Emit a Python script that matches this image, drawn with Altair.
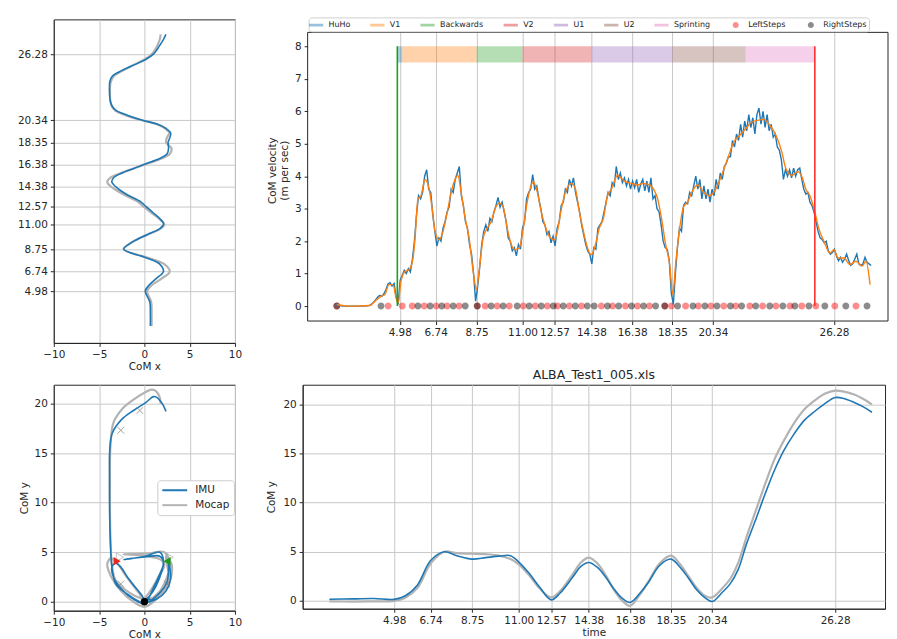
import altair as alt
import pandas as pd

# ---------------- data ----------------
TIME_TICKS = [4.98, 6.74, 8.75, 11.00, 12.57, 14.38, 16.38, 18.35, 20.34, 26.28]

# centre-of-mass position (IMU and Mocap) sampled in time
T_POS = [1.85, 3.0, 4.0, 4.98, 5.5, 6.1, 6.74, 7.4, 8.0, 8.75, 9.4, 10.05, 10.6, 11.0,
         11.5, 12.0, 12.57, 13.0, 13.6, 14.0, 14.38, 14.8, 15.2, 15.6, 16.0, 16.38,
         16.9, 17.3, 17.8, 18.35, 18.8, 19.2, 19.6, 20.0, 20.34, 20.8, 21.2, 21.6,
         22.0, 22.45, 22.9, 23.35, 23.8, 24.3, 24.8, 25.3, 25.8, 26.28, 26.7, 27.2,
         27.6, 28.06]
X_IMU = [0.66, 0.66, 0.6, 0.1, 0.5, 1.3, 2.1, 1.7, 0.1, -2.27, -1.3, 0.3, 1.7, 2.12,
         1.7, 1.0, 0.2, -0.4, -1.8, -2.6, -3.19, -3.6, -3.37, -2.45, -1.17, 0.0,
         1.7, 2.5, 2.67, 2.62, 2.82, 2.9, 2.4, 1.4, -0.2, -1.9, -3.1, -3.55,
         -3.74, -3.82, -3.85, -3.85, -3.82, -3.55, -2.5, -1.2, 0.15, 1.0, 1.4, 1.8,
         2.1, 2.38]
Y_IMU = [0.17, 0.2, 0.24, 0.15, 0.5, 1.6, 4.1, 5.0, 4.6, 4.25, 4.4, 4.55, 4.6, 3.95,
         2.8, 1.4, 0.1, 0.8, 2.4, 3.5, 3.9, 3.4, 2.4, 1.2, 0.25, -0.17,
         0.9, 2.0, 3.6, 4.25, 3.4, 2.3, 1.1, 0.3, -0.07, 0.8, 1.7, 3.2,
         5.8, 8.3, 10.9, 13.3, 15.3, 17.0, 18.4, 19.3, 20.1, 20.7, 20.6, 20.2,
         19.8, 19.2]
X_MOCAP = [0.8, 0.8, 0.75, 0.3, 0.8, 1.9, 2.8, 2.2, 0.3, -2.3, -1.3, 0.3, 1.8, 2.2,
           1.6, 0.8, -0.1, -0.7, -2.1, -3.0, -3.7, -4.1, -3.7, -2.6, -1.2, 0.1,
           1.9, 2.8, 3.0, 2.4, 2.5, 2.75, 2.3, 1.3, -0.3, -2.1, -3.2, -3.6,
           -3.75, -3.8, -3.8, -3.8, -3.7, -3.4, -2.4, -1.2, 0.0, 0.8, 1.2, 1.5,
           1.7, 1.8]
Y_MOCAP = [-0.05, -0.07, -0.05, 0.0, 0.3, 1.3, 3.8, 5.0, 4.85, 4.8, 4.75, 4.6, 4.25, 3.7,
           2.6, 1.3, 0.35, 1.0, 2.7, 3.9, 4.4, 3.8, 2.6, 1.1, 0.0, -0.5,
           0.8, 2.1, 3.8, 4.6, 3.7, 2.5, 1.3, 0.5, 0.35, 1.2, 2.2, 3.9,
           6.5, 9.2, 11.9, 14.4, 16.3, 18.1, 19.5, 20.4, 21.1, 21.4, 21.3, 21.0,
           20.6, 20.0]

# raw CoM velocity, sampled every 0.1 s from 1.8 s
V_RAW_START = 1.8
V_RAW_STEP = 0.1
V_RAW = [
    0.05, 0.03, 0.02, 0.01, 0.0, 0.0, 0.0, 0.0, 0.0, 0.0,
    0.0, 0.0, 0.0, 0.0, 0.0, 0.01, 0.01, 0.02, 0.06, 0.12,
    0.2, 0.28, 0.33, 0.3, 0.38, 0.5, 0.68, 0.72, 0.62, 0.7,
    0.3, 0.05, 0.8, 0.95, 1.1, 1.0, 1.15, 1.05, 1.45, 2.0,
    2.8, 3.4, 3.3, 3.5, 4.0, 4.2, 3.6, 3.5, 2.8, 2.3,
    1.85, 2.1, 2.0, 2.4, 2.6, 2.9, 3.05, 3.6, 3.5, 3.9,
    4.1, 4.3, 3.4, 3.1, 2.6, 2.4, 1.9, 1.6, 1.0, 0.15,
    0.6, 1.2, 1.9, 2.3, 2.5, 2.3, 2.7, 2.6, 2.9, 3.1,
    3.35, 3.05, 3.2, 2.9, 2.6, 2.1, 2.0, 1.7, 1.8, 1.55,
    1.9, 1.75, 2.4, 2.6, 3.3, 3.5, 3.6, 4.05, 3.6, 3.7,
    3.3, 3.0, 2.6, 2.5, 2.2, 2.3, 1.95, 2.15, 1.85, 2.4,
    2.6, 3.1, 3.2, 3.6, 3.5, 3.9, 3.7, 3.95, 3.5, 3.2,
    2.9, 2.5, 2.2, 1.9, 1.7, 1.6, 1.3, 1.8, 1.75, 2.4,
    2.5, 2.6, 2.9, 3.2, 3.5, 3.4, 3.8, 3.7, 4.3, 3.9,
    4.1, 3.8, 3.95, 3.7, 3.9, 3.6, 3.85, 3.65, 3.9, 3.5,
    3.75, 3.9, 3.55, 3.85, 3.5, 3.95, 3.3, 3.4, 3.0, 2.9,
    2.5, 2.0, 1.8, 1.75, 1.4, 0.4, 0.05, 1.0, 1.8, 2.4,
    2.3, 3.1, 3.2, 3.15, 3.5, 3.4, 3.7, 4.0, 3.6, 3.9,
    3.3, 3.7, 3.3, 3.6, 3.2, 3.6, 3.4, 3.9, 3.6, 4.1,
    3.9, 4.3, 4.4, 4.6, 4.6, 5.1, 4.9, 5.3, 5.1, 5.6,
    5.2, 5.7, 5.4, 5.9, 5.5, 5.8, 5.3, 5.9, 6.1, 5.6,
    6.0, 5.5, 5.9, 5.4, 5.6, 5.2, 5.3, 4.9, 4.8, 4.5,
    3.9, 4.2, 4.0, 4.2, 3.95, 4.25, 4.0, 4.2, 4.25, 3.9,
    3.6, 3.45, 3.5, 3.2, 3.1, 2.9, 2.6, 2.3, 2.1, 2.05,
    1.95, 2.0, 1.7, 1.6, 1.65, 1.75, 1.55, 1.4, 1.5, 1.35,
    1.45, 1.6, 1.4, 1.25, 1.3, 1.45, 1.6, 1.3, 1.25, 1.3,
    1.5, 1.35, 1.3, 1.25,
]

# smoothed CoM velocity
T_SMOOTH = [1.89, 2.5, 3.5, 3.76, 4.06, 4.25, 4.45, 4.65, 4.8, 4.9, 5.04, 5.24, 5.43,
            5.63, 5.73, 5.87, 6.02, 6.22, 6.42, 6.57, 6.71, 6.91, 7.1, 7.3, 7.5,
            7.69, 7.83, 7.99, 8.19, 8.38, 8.58, 8.74, 8.87, 9.07, 9.27, 9.46, 9.66,
            9.86, 10.05, 10.25, 10.45, 10.64, 10.84, 11.04, 11.23, 11.43, 11.53,
            11.73, 11.92, 12.12, 12.32, 12.57, 12.71, 12.91, 13.1, 13.4, 13.6,
            13.79, 13.99, 14.19, 14.38, 14.58, 14.77, 14.97, 15.17, 15.36, 15.66,
            15.86, 16.05, 16.35, 16.64, 16.94, 17.23, 17.43, 17.63, 17.82, 18.02,
            18.22, 18.37, 18.51, 18.71, 18.9, 19.1, 19.3, 19.59, 19.89, 20.18,
            20.48, 20.77, 21.07, 21.36, 21.66, 21.95, 22.25, 22.54, 22.84, 23.13,
            23.43, 23.72, 23.92, 24.21, 24.51, 24.71, 24.9, 25.1, 25.34, 25.53,
            25.79, 26.08, 26.28, 26.48, 26.77, 27.07, 27.36, 27.66, 27.85, 28.05]
V_SMOOTH = [0.05, 0.0, 0.02, 0.15, 0.3, 0.36, 0.66, 0.66, 0.25, 0.1, 0.77, 1.07, 1.12,
            1.48, 2.1, 3.3, 3.4, 3.9, 3.6, 3.0, 2.3, 2.04, 2.3, 2.86, 3.5,
            3.9, 4.03, 3.5, 2.7, 2.1, 1.07, 0.51, 1.07, 2.1, 2.4, 2.6, 3.0,
            3.17, 3.06, 2.4, 1.9, 1.74, 1.79, 2.4, 3.2, 3.73, 3.83,
            3.5, 2.9, 2.45, 2.14, 2.04, 2.3, 3.0, 3.5, 3.78, 3.6,
            2.9, 2.3, 1.79, 1.58, 1.9, 2.4, 2.7, 3.4, 3.6, 4.03,
            3.93, 3.83, 3.78, 3.73, 3.78, 3.73, 3.6, 3.3, 2.7, 1.9,
            1.28, 0.36, 1.28, 2.4, 3.06, 3.2, 3.5, 3.73, 3.5, 3.4,
            3.6, 4.03, 4.55, 5.05, 5.26, 5.46, 5.67, 5.72, 5.75, 5.57,
            5.26, 4.75, 4.24, 4.03, 4.14, 3.98, 3.6, 3.4, 2.9, 2.4,
            1.99, 1.63, 1.74, 1.48, 1.48, 1.28, 1.38, 1.23, 1.38, 0.66]

# activity phases (start / end times)
PHASES = ["HuHo", "V1", "Backwards", "V2", "U1", "U2", "Sprinting"]
PHASE_START = [4.86, 5.10, 8.75, 11.00, 14.38, 18.35, 21.95]
PHASE_END = [5.10, 8.75, 11.00, 14.38, 18.35, 21.95, 25.34]
BAND_LOW, BAND_HIGH = 7.5, 8.0
EVENT_START = [4.86]
EVENT_END = [25.34]
RULE_LOW, RULE_HIGH = 0, 8

LEFT_STEPS = [1.89, 4.41, 5.10, 5.59, 6.18, 6.77, 7.30, 7.89, 8.78, 9.17, 9.76, 10.35,
              11.04, 11.63, 12.22, 12.71, 13.30, 13.89, 14.87, 15.42, 16.05, 16.64,
              17.23, 17.98, 18.31, 19.0, 19.63, 20.24, 20.87, 21.46, 22.15, 22.78,
              23.43, 24.12, 24.7, 25.39, 26.32, 27.36]
RIGHT_STEPS = [1.89, 4.06, 5.87, 6.47, 7.04, 7.60, 8.19, 8.78, 9.46, 10.05, 10.74, 11.33,
               11.92, 12.51, 13.0, 13.59, 14.18, 14.52, 15.17, 15.72, 16.35, 16.94,
               17.53, 17.98, 18.61, 19.36, 19.95, 20.54, 21.20, 21.75, 22.44, 23.13,
               23.77, 24.36, 25.05, 25.83, 26.86, 27.9]

# markers in the trajectory panel
CROSS_X = [-2.6, -0.5, -2.6, 2.5]
CROSS_Y = [17.3, 19.3, 1.8, 1.8]
GTRI_X = [-2.7, 2.8]
GTRI_Y = [4.5, 4.5]
RTRI_X, RTRI_Y = [-3.0], [4.1]
GRTRI_X, GRTRI_Y = [2.5], [4.1]
ORIGIN_X, ORIGIN_Y = [0.0], [0.0]

# ---------------- styling ----------------
BLUE = "#1f77b4"
ORANGE = "#ff7f0e"
GRAY = "#b3b3b3"
TXT = "#262626"
FONT = "DejaVu Sans"
TAB = ["#1f77b4", "#ff7f0e", "#2ca02c", "#d62728", "#9467bd", "#8c564b", "#e377c2"]
RECT_PATH = "M-1.3,-0.25L1.3,-0.25L1.3,0.25L-1.3,0.25Z"
DOT_PATH = "M-0.55,0A0.55,0.55,0,1,0,0.55,0A0.55,0.55,0,1,0,-0.55,0Z"
X_PATH = "M-1,-1L1,1M-1,1L1,-1"
LINE_PATH = "M-1,0L4,0"

pos = pd.DataFrame({
    "t": T_POS * 2,
    "x": X_IMU + X_MOCAP,
    "y": Y_IMU + Y_MOCAP,
    "source": ["IMU"] * len(T_POS) + ["Mocap"] * len(T_POS),
})
imu = pos[pos.source == "IMU"]
moc = pos[pos.source == "Mocap"]

raw = pd.DataFrame({"t": [round(V_RAW_START + i * V_RAW_STEP, 2) for i in range(len(V_RAW))],
                    "v": V_RAW})
smooth = pd.DataFrame({"t": T_SMOOTH, "v": V_SMOOTH})
bands = pd.DataFrame({"start": PHASE_START, "end": PHASE_END, "name": PHASES})
steps = pd.DataFrame({"t": LEFT_STEPS + RIGHT_STEPS,
                      "v": [0.0] * (len(LEFT_STEPS) + len(RIGHT_STEPS)),
                      "name": ["LeftSteps"] * len(LEFT_STEPS) + ["RightSteps"] * len(RIGHT_STEPS)})

# ---------------- top-left: CoM x vs time ----------------
tl_xs = alt.Scale(domain=[-10, 10], nice=False, zero=False)
tl_ys = alt.Scale(domain=[0.32, 29.41], nice=False, zero=False)
tl_xa = alt.Axis(values=[-10, -5, 0, 5, 10], title="CoM x", titlePadding=2)
tl_ya = alt.Axis(values=TIME_TICKS, format=".2f", title=None)
tl = alt.layer(
    alt.Chart(moc).mark_line(color=GRAY, strokeWidth=2.2, interpolate="catmull-rom").encode(
        x=alt.X("x:Q", scale=tl_xs, axis=tl_xa), y=alt.Y("t:Q", scale=tl_ys, axis=tl_ya), order="t:Q"),
    alt.Chart(imu).mark_line(color=BLUE, strokeWidth=1.6, interpolate="catmull-rom").encode(
        x=alt.X("x:Q", scale=tl_xs, axis=tl_xa), y=alt.Y("t:Q", scale=tl_ys, axis=tl_ya), order="t:Q"),
).properties(width=182, height=325)

# ---------------- top-right: CoM velocity ----------------
# the view reaches up into the legend strip; the plot frame is drawn at the axes limits
TR_T_MIN, TR_T_MAX = 0.46, 28.93
TR_V_MIN, TR_V_MAX, TR_V_TOP = -0.46, 8.43, 8.83
leg_domain = PHASES + ["LeftSteps", "RightSteps"]
leg_colors = TAB + ["#ff0000", "#000000"]
leg_shapes = [RECT_PATH] * 7 + [DOT_PATH] * 2
tr_legend = alt.Legend(title=None, orient="none", legendX=1, legendY=-2, direction="horizontal",
                       columns=9, columnPadding=19.5, labelOffset=7, labelFontSize=8, labelFont=FONT,
                       labelColor=TXT, symbolSize=121, symbolOpacity=0.45, symbolStrokeWidth=0,
                       padding=2, strokeColor="#d0d0d0", fillColor="white", cornerRadius=3)
cscale = alt.Scale(domain=leg_domain, range=leg_colors)
sscale = alt.Scale(domain=leg_domain, range=leg_shapes)
tr_xs = alt.Scale(domain=[TR_T_MIN, TR_T_MAX], nice=False, zero=False)
tr_ys = alt.Scale(domain=[TR_V_MIN, TR_V_TOP], nice=False, zero=False)
tr_xa = alt.Axis(values=TIME_TICKS, format=".2f", title=None, domain=False)
tr_ya = alt.Axis(values=list(range(9)), title=["CoM velocity", "(m per sec)"], titlePadding=5,
                 domain=False)

tr = alt.layer(
    alt.Chart(bands).mark_rect(opacity=0.35).encode(
        x=alt.X("start:Q", scale=tr_xs, axis=tr_xa), x2="end:Q",
        y=alt.YDatum(BAND_LOW, scale=tr_ys, axis=tr_ya), y2=alt.Y2Datum(BAND_HIGH),
        color=alt.Color("name:N", scale=cscale, legend=tr_legend)),
    alt.Chart(steps).mark_point(filled=True, size=160, opacity=0.45, strokeWidth=0).encode(
        x=alt.X("t:Q", scale=tr_xs, axis=tr_xa), y=alt.Y("v:Q", scale=tr_ys, axis=tr_ya),
        color=alt.Color("name:N", scale=cscale, legend=tr_legend),
        shape=alt.Shape("name:N", scale=sscale, legend=tr_legend)),
    alt.Chart(raw).mark_line(color=BLUE, strokeWidth=1.4).encode(
        x=alt.X("t:Q", scale=tr_xs, axis=tr_xa), y=alt.Y("v:Q", scale=tr_ys, axis=tr_ya)),
    alt.Chart(smooth).mark_line(color=ORANGE, strokeWidth=1.4, interpolate="monotone").encode(
        x=alt.X("t:Q", scale=tr_xs, axis=tr_xa), y=alt.Y("v:Q", scale=tr_ys, axis=tr_ya)),
    alt.Chart(pd.DataFrame({"t": EVENT_START})).mark_rule(color="#16a316", strokeWidth=1.6).encode(
        x=alt.X("t:Q", scale=tr_xs, axis=tr_xa),
        y=alt.YDatum(RULE_LOW, scale=tr_ys, axis=tr_ya), y2=alt.Y2Datum(RULE_HIGH)),
    alt.Chart(pd.DataFrame({"t": EVENT_END})).mark_rule(color="#ff3030", strokeWidth=1.6).encode(
        x=alt.X("t:Q", scale=tr_xs, axis=tr_xa),
        y=alt.YDatum(RULE_LOW, scale=tr_ys, axis=tr_ya), y2=alt.Y2Datum(RULE_HIGH)),
    alt.Chart(pd.DataFrame({"a": [0]})).mark_rect(fillOpacity=0, stroke=TXT, strokeWidth=1).encode(
        x=alt.XDatum(TR_T_MIN, scale=tr_xs, axis=tr_xa), x2=alt.X2Datum(TR_T_MAX),
        y=alt.YDatum(TR_V_MIN, scale=tr_ys, axis=tr_ya), y2=alt.Y2Datum(TR_V_MAX)),
).properties(width=583, height=303, view=alt.ViewBackground(stroke="transparent"))

# ---------------- bottom-left: trajectory ----------------
bl_xs = alt.Scale(domain=[-10, 10], nice=False, zero=False)
bl_ys = alt.Scale(domain=[-0.9, 21.9], nice=False, zero=False)
bl_xa = alt.Axis(values=[-10, -5, 0, 5, 10], title="CoM x", titlePadding=2)
bl_ya = alt.Axis(values=[0, 5, 10, 15, 20], title="CoM y", titlePadding=5)
bl_legend = alt.Legend(title=None, orient="none", legendX=104, legendY=96, symbolType=LINE_PATH,
                       symbolSize=100, symbolStrokeWidth=2, labelOffset=22, labelFontSize=10.5,
                       labelFont=FONT, labelColor=TXT, padding=4, rowPadding=3,
                       strokeColor="#cccccc", fillColor="white", cornerRadius=3)
src_scale = alt.Scale(domain=["IMU", "Mocap"], range=[BLUE, GRAY])


def marker_layer(xs, ys, **mark):
    return alt.Chart(pd.DataFrame({"x": xs, "y": ys})).mark_point(**mark).encode(
        x=alt.X("x:Q", scale=bl_xs, axis=bl_xa), y=alt.Y("y:Q", scale=bl_ys, axis=bl_ya))


bl = alt.layer(
    alt.Chart(moc).mark_line(strokeWidth=2.2, interpolate="catmull-rom").encode(
        x=alt.X("x:Q", scale=bl_xs, axis=bl_xa), y=alt.Y("y:Q", scale=bl_ys, axis=bl_ya),
        order="t:Q", color=alt.Color("source:N", scale=src_scale, legend=bl_legend)),
    alt.Chart(imu).mark_line(strokeWidth=1.6, interpolate="catmull-rom").encode(
        x=alt.X("x:Q", scale=bl_xs, axis=bl_xa), y=alt.Y("y:Q", scale=bl_ys, axis=bl_ya),
        order="t:Q", color=alt.Color("source:N", scale=src_scale, legend=bl_legend)),
    marker_layer(CROSS_X, CROSS_Y, shape=X_PATH, size=45, filled=False, color="#777777", strokeWidth=1),
    marker_layer(GTRI_X, GTRI_Y, shape="triangle-right", size=70, filled=False, color="#aaaaaa", strokeWidth=1),
    marker_layer(RTRI_X, RTRI_Y, shape="triangle-right", size=70, filled=True, color="#e8281e", opacity=1),
    marker_layer(GRTRI_X, GRTRI_Y, shape="triangle-left", size=70, filled=True, color="#1e9a1e", opacity=1),
    marker_layer(ORIGIN_X, ORIGIN_Y, shape="circle", size=55, filled=True, color="#000000", opacity=1),
).properties(width=182, height=227)

# ---------------- bottom-right: CoM y vs time ----------------
br_xs = alt.Scale(domain=[0.56, 28.69], nice=False, zero=False)
br_ys = alt.Scale(domain=[-0.8, 22.0], nice=False, zero=False)
br_xa = alt.Axis(values=TIME_TICKS, format=".2f", title="time", titlePadding=2)
br_ya = alt.Axis(values=[0, 5, 10, 15, 20], title="CoM y", titlePadding=6)
br = alt.layer(
    alt.Chart(moc).mark_line(color=GRAY, strokeWidth=2.2, interpolate="catmull-rom").encode(
        x=alt.X("t:Q", scale=br_xs, axis=br_xa), y=alt.Y("y:Q", scale=br_ys, axis=br_ya)),
    alt.Chart(imu).mark_line(color=BLUE, strokeWidth=1.6, interpolate="catmull-rom").encode(
        x=alt.X("t:Q", scale=br_xs, axis=br_xa), y=alt.Y("y:Q", scale=br_ys, axis=br_ya)),
).properties(width=585, height=225,
             title=alt.TitleParams("ALBA_Test1_005.xls", fontSize=12.5, offset=3))

chart = alt.concat(tl, tr, bl, br, columns=2, align={"row": "each", "column": "none"},
                   spacing={"row": -4, "column": 23}).resolve_scale(
    color="independent", shape="independent"
).properties(
    padding={"left": 8, "top": 7, "right": 0, "bottom": 0}
).configure_axis(
    labelFont=FONT, titleFont=FONT, labelFontSize=10.5, titleFontSize=10.5,
    labelColor=TXT, titleColor=TXT, titleFontWeight="normal", domainColor=TXT,
    tickColor=TXT, tickSize=3.5, labelPadding=3, gridColor="#c8c8c8", gridWidth=1,
    labelOverlap=False, labelFlush=False,
).configure_view(stroke=TXT, strokeWidth=1).configure_title(
    font=FONT, fontWeight="normal", color=TXT, anchor="middle"
)

chart.save("out.html", embed_options={"renderer": "svg", "actions": False})
